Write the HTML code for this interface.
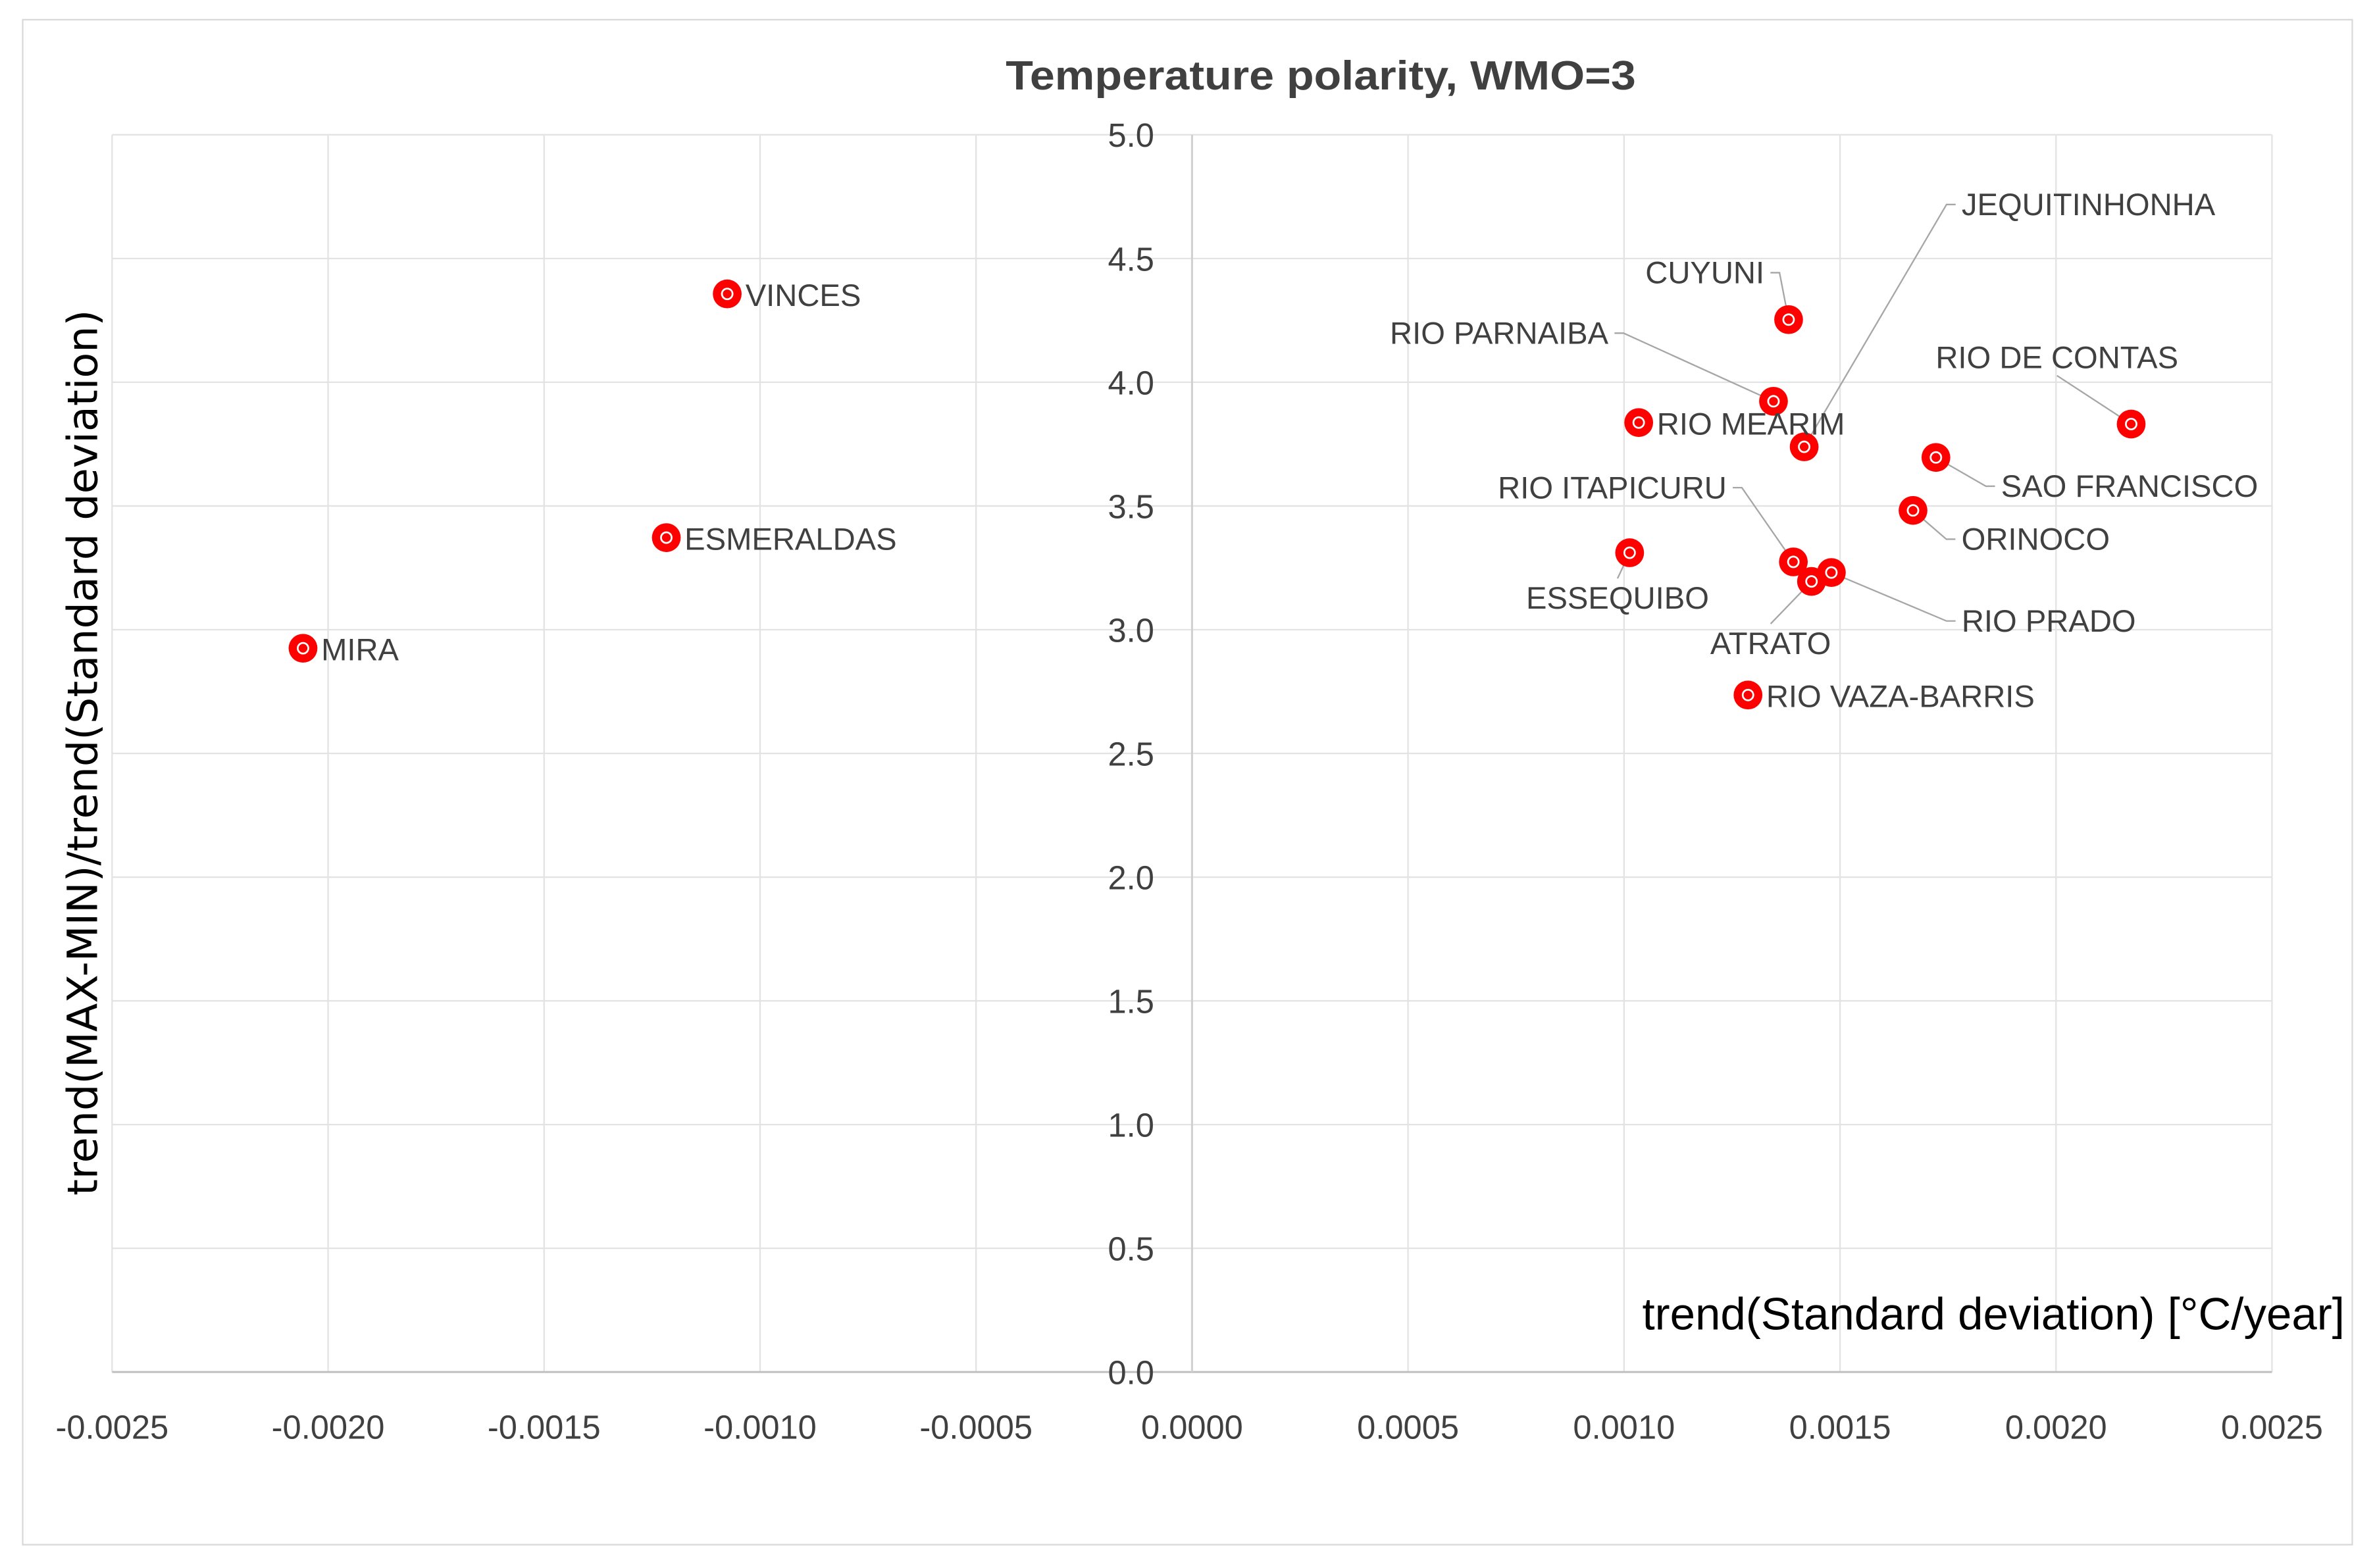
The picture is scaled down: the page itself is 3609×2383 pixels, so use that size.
<!DOCTYPE html>
<html><head><meta charset="utf-8"><style>
html,body{margin:0;padding:0;background:#fff;}
svg{display:block;}
text{font-family:"Liberation Sans Narrow","Liberation Sans",sans-serif;fill:#404040;}
</style></head><body>
<svg id="chart" width="3609" height="2383" viewBox="0 0 1568 1035.4" preserveAspectRatio="none" xmlns="http://www.w3.org/2000/svg">
<rect x="15" y="13" width="1538" height="1007" fill="#fff" stroke="#d9d9d9" stroke-width="1"/>
<g id="grid"></g>
<g id="axes"></g>
<g id="ticks"></g>
<g id="leaders"></g>
<g id="points"></g>
<g id="labels"></g>
<text x="872" y="59" text-anchor="middle" font-size="27" font-weight="bold" fill="#595959" textLength="416" lengthAdjust="spacingAndGlyphs">Temperature polarity, WMO=3</text>
<text x="1548" y="878" text-anchor="end" font-size="30" style="fill:#000">trend(Standard deviation) [°C/year]</text>
<text transform="translate(64,497) rotate(-90)" text-anchor="middle" font-size="27.5" style="fill:#000;font-family:'DejaVu Sans','Liberation Sans',sans-serif" textLength="585" lengthAdjust="spacingAndGlyphs">trend(MAX-MIN)/trend(Standard deviation)</text>
</svg>
<script>
const names = ["MIRA","ESMERALDAS","VINCES","ESSEQUIBO","RIO MEARIM","RIO PARNAIBA","CUYUNI","JEQUITINHONHA","RIO DE CONTAS","SAO FRANCISCO","ORINOCO","RIO ITAPICURU","ATRATO","RIO PRADO","RIO VAZA-BARRIS"];
const xValues = [-0.002058,-0.001217,-0.001076,0.001013,0.001034,0.001346,0.001381,0.001417,0.002174,0.001722,0.001669,0.001392,0.001434,0.001480,0.001287];
const yValues = [2.925,3.372,4.357,3.311,3.837,3.923,4.253,3.739,3.831,3.696,3.482,3.274,3.195,3.231,2.736];
const xTicks = [-0.0025,-0.002,-0.0015,-0.001,-0.0005,0,0.0005,0.001,0.0015,0.002,0.0025];
const yTicks = [0,0.5,1,1.5,2,2.5,3,3.5,4,4.5,5];
// label placement (offset from point, px), anchor, leader flag
const labelDx = [12,12,12,-8,12,-109,-16,104,-49,43,32,-44,-27,86,12];
const labelDy = [8,8,8,37,8,-38,-24,-153,-37,26,26,-42,48,39,8];
const labelAnchor = ["start","start","start","middle","start","end","end","start","middle","start","start","end","middle","start","start"];
const hasLeader = [0,0,0,1,0,1,1,1,1,1,1,1,1,1,0];

const X0=74,X1=1500,Y0=906,Y1=89;
const sx=v=>X0+(v-(-0.0025))/(0.005)*(X1-X0);
const sy=v=>Y0-(v/5)*(Y0-Y1);
const NS="http://www.w3.org/2000/svg";
function mk(tag,attrs,parent){const e=document.createElementNS(NS,tag);for(const k in attrs)e.setAttribute(k,attrs[k]);parent.appendChild(e);return e;}
const grid=document.getElementById('grid'),axes=document.getElementById('axes'),ticks=document.getElementById('ticks');
xTicks.forEach(t=>{
  const l=mk('line',{x1:sx(t),x2:sx(t),y1:Y1,y2:Y0,stroke:'#e3e3e3','stroke-width':1},grid);
  
  
  const tx=mk('text',{x:sx(t),y:Y0+44,'text-anchor':'middle','font-size':22},ticks);
  tx.textContent=t.toFixed(4);
  
  
});
yTicks.forEach(t=>{
  if(t>0){const l=mk('line',{x1:X0,x2:X1,y1:sy(t),y2:sy(t),stroke:'#e3e3e3','stroke-width':1},grid);
  
  }
  const tx=mk('text',{x:762,y:sy(t)+8,'text-anchor':'end','font-size':22},ticks);
  tx.textContent=t.toFixed(1);
  
  
});
const xa=mk('line',{x1:X0,x2:X1,y1:Y0,y2:Y0,stroke:'#bfbfbf','stroke-width':1.3},axes);


const ya=mk('line',{x1:sx(0),x2:sx(0),y1:Y1,y2:Y0,stroke:'#d0d0d0','stroke-width':1.3},axes);



const leaders=document.getElementById('leaders'),pts=document.getElementById('points'),labs=document.getElementById('labels');
names.forEach((n,i)=>{
  const px=sx(xValues[i]),py=sy(yValues[i]);
  const lx=px+labelDx[i],ly=py+labelDy[i];
  if(hasLeader[i]){
    let ex,ey,d;
    if(labelAnchor[i]==='start'){ex=lx-4;ey=ly-7;d=`M${ex},${ey} L${ex-6},${ey} L${px},${py}`;}
    else if(labelAnchor[i]==='end'){ex=lx+4;ey=ly-7;d=`M${ex},${ey} L${ex+6},${ey} L${px},${py}`;}
    else {ex=lx;ey=labelDy[i]>0?ly-20:ly+5;d=`M${ex},${ey} L${px},${py}`;}
    const p=mk('path',{d:d,fill:'none',stroke:'#a6a6a6','stroke-width':1},leaders);
    
    
  }
  const g=mk('g',{},pts);
  
  
  mk('circle',{cx:px,cy:py,r:9.5,fill:'#ff0000'},g);
  mk('circle',{cx:px,cy:py,r:3.5,fill:'none',stroke:'#fff','stroke-width':1.2},g);
  const t=mk('text',{x:lx,y:ly,'text-anchor':labelAnchor[i],'font-size':20.5},labs);
  t.textContent=n;
  
  
});
</script>
</body></html>
